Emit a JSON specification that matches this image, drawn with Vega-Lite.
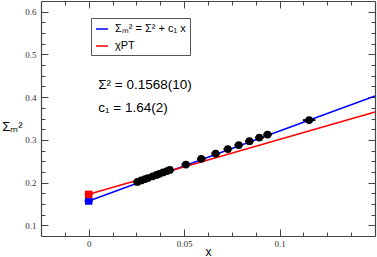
{
  "$schema": "https://vega.github.io/schema/vega-lite/v6.json",
  "width": 334,
  "height": 235,
  "autosize": {"type": "none"},
  "padding": {"left": 41, "top": 1, "right": 2, "bottom": 21},
  "background": "#ffffff",
  "config": {
    "view": {"stroke": null},
    "axis": {
      "domainColor": "#444",
      "domainWidth": 1.2,
      "tickColor": "#444",
      "tickWidth": 1,
      "grid": false,
      "labelFont": "Liberation Serif",
      "labelFontSize": 9,
      "labelColor": "#333",
      "labelOverlap": false,
      "titleFont": "Liberation Sans",
      "titleFontWeight": "normal",
      "titleColor": "#000"
    }
  },
  "datasets": {
    "lines": [
      {"series": "Σₘ² = Σ² + c₁ x", "x": 0, "y": 0.1568},
      {"series": "Σₘ² = Σ² + c₁ x", "x": 0.15, "y": 0.4028},
      {"series": "χPT", "x": 0, "y": 0.1725},
      {"series": "χPT", "x": 0.15, "y": 0.365}
    ],
    "points": [
      {"x": 0.0255, "y": 0.2016, "xlo": 0.0232, "xhi": 0.0278},
      {"x": 0.0275, "y": 0.2049, "xlo": 0.0252, "xhi": 0.0298},
      {"x": 0.0295, "y": 0.2082, "xlo": 0.0272, "xhi": 0.0318},
      {"x": 0.031, "y": 0.2106, "xlo": 0.0287, "xhi": 0.0333},
      {"x": 0.0335, "y": 0.2147, "xlo": 0.0312, "xhi": 0.0358},
      {"x": 0.0355, "y": 0.218, "xlo": 0.0332, "xhi": 0.0378},
      {"x": 0.037, "y": 0.2205, "xlo": 0.0347, "xhi": 0.0393},
      {"x": 0.039, "y": 0.2238, "xlo": 0.0367, "xhi": 0.0413},
      {"x": 0.041, "y": 0.227, "xlo": 0.0387, "xhi": 0.0433},
      {"x": 0.0425, "y": 0.2295, "xlo": 0.0402, "xhi": 0.0448},
      {"x": 0.0509, "y": 0.2423, "xlo": 0.0486, "xhi": 0.0532},
      {"x": 0.059, "y": 0.2556, "xlo": 0.0567, "xhi": 0.0613},
      {"x": 0.0665, "y": 0.2679, "xlo": 0.0642, "xhi": 0.0688},
      {"x": 0.0729, "y": 0.2784, "xlo": 0.0706, "xhi": 0.0752},
      {"x": 0.0786, "y": 0.2877, "xlo": 0.0763, "xhi": 0.0809},
      {"x": 0.0842, "y": 0.2969, "xlo": 0.0819, "xhi": 0.0865},
      {"x": 0.0894, "y": 0.3054, "xlo": 0.0871, "xhi": 0.0917},
      {"x": 0.0937, "y": 0.3125, "xlo": 0.0914, "xhi": 0.096},
      {"x": 0.1155, "y": 0.3462, "xlo": 0.1122, "xhi": 0.1188}
    ],
    "squares": [
      {"series": "Σₘ² = Σ² + c₁ x", "x": 0, "y": 0.1568, "xlo": -0.0022, "xhi": 0.0022},
      {"series": "χPT", "x": 0, "y": 0.1725, "xlo": -0.0022, "xhi": 0.0022}
    ],
    "notes": [
      {"x": 0.005, "y": 0.4284, "label": "Σ² = 0.1568(10)"},
      {"x": 0.005, "y": 0.375, "label": "c₁ = 1.64(2)"}
    ]
  },
  "resolve": {"axis": {"x": "independent", "y": "independent"}},
  "layer": [
    {
      "data": {"name": "lines"},
      "mark": {"type": "line", "strokeWidth": 1.5},
      "encoding": {
        "x": {
          "field": "x", "type": "quantitative",
          "scale": {"domain": [-0.025, 0.15], "nice": false, "zero": false},
          "axis": {
            "orient": "bottom",
            "values": [-0.0125, 0, 0.0125, 0.025, 0.0375, 0.05, 0.0625, 0.075, 0.0875, 0.1, 0.1125, 0.125, 0.1375],
            "tickSize": {"condition": {"test": "abs(datum.value*20 - round(datum.value*20)) < 0.001", "value": -7}, "value": -4},
            "labelExpr": "abs(datum.value*20 - round(datum.value*20)) < 0.001 ? format(datum.value, '~g') : ''",
            "labelOverlap": false,
            "labelPadding": 10,
            "labelFlush": false,
            "title": "x",
            "titleFontSize": 12,
            "titleX": 167,
            "titleY": 19,
            "titleBaseline": "alphabetic",
            "titleAlign": "center"
          }
        },
        "y": {
          "field": "y", "type": "quantitative",
          "scale": {"domain": [0.075, 0.625], "nice": false, "zero": false},
          "axis": {
            "orient": "left",
            "values": [0.1, 0.125, 0.15, 0.175, 0.2, 0.225, 0.25, 0.275, 0.3, 0.325, 0.35, 0.375, 0.4, 0.425, 0.45, 0.475, 0.5, 0.525, 0.55, 0.575, 0.6],
            "tickSize": {"condition": {"test": "abs(datum.value*10 - round(datum.value*10)) < 0.001", "value": -7}, "value": -4},
            "labelExpr": "abs(datum.value*10 - round(datum.value*10)) < 0.001 ? format(datum.value, '~g') : ''",
            "labelOverlap": false,
            "labelPadding": 12,
            "labelFlush": false,
            "title": "Σₘ²",
            "titleFontSize": 13,
            "titleAngle": 0,
            "titleX": -29,
            "titleY": 125,
            "titleAlign": "center",
            "titleBaseline": "middle"
          }
        },
        "color": {
          "field": "series", "type": "nominal",
          "scale": {"domain": ["Σₘ² = Σ² + c₁ x", "χPT"], "range": ["#0000ff", "#ff0000"]},
          "legend": {
            "orient": "none",
            "legendX": 50,
            "legendY": 17,
            "title": null,
            "symbolType": "stroke",
            "symbolStrokeWidth": 1.5,
            "symbolSize": 144,
            "strokeColor": "#555",
            "fillColor": "#ffffff",
            "padding": 4,
            "labelFont": "Liberation Sans",
            "labelFontSize": 11,
            "labelColor": "#000",
            "rowPadding": 5,
            "labelOffset": 6
          }
        }
      }
    },
    {
      "data": {"name": "points"},
      "mark": {"type": "rule", "color": "#000", "strokeWidth": 2},
      "encoding": {
        "x": {"field": "xlo", "type": "quantitative", "axis": null},
        "x2": {"field": "xhi"},
        "y": {"field": "y", "type": "quantitative", "axis": null}
      }
    },
    {
      "data": {"name": "points"},
      "mark": {"type": "point", "shape": "circle", "filled": true, "color": "#000", "size": 60, "opacity": 1},
      "encoding": {
        "x": {"field": "x", "type": "quantitative", "axis": null},
        "y": {"field": "y", "type": "quantitative", "axis": null}
      }
    },
    {
      "data": {"name": "squares"},
      "mark": {"type": "rule", "strokeWidth": 1.5},
      "encoding": {
        "x": {"field": "xlo", "type": "quantitative", "axis": null},
        "x2": {"field": "xhi"},
        "y": {"field": "y", "type": "quantitative", "axis": null},
        "color": {"field": "series", "type": "nominal", "legend": null}
      }
    },
    {
      "data": {"name": "notes"},
      "mark": {"type": "text", "align": "left", "baseline": "middle", "font": "Liberation Sans", "fontSize": 13.5, "color": "#000"},
      "encoding": {
        "x": {"field": "x", "type": "quantitative", "axis": null},
        "y": {"field": "y", "type": "quantitative", "axis": null},
        "text": {"field": "label"}
      }
    },
    {
      "data": {"name": "squares"},
      "mark": {"type": "square", "size": 55, "opacity": 1},
      "encoding": {
        "x": {
          "field": "x", "type": "quantitative",
          "axis": {
            "orient": "top",
            "values": [-0.0125, 0, 0.0125, 0.025, 0.0375, 0.05, 0.0625, 0.075, 0.0875, 0.1, 0.1125, 0.125, 0.1375],
            "tickSize": {"condition": {"test": "abs(datum.value*20 - round(datum.value*20)) < 0.001", "value": -7}, "value": -4},
            "labels": false,
            "title": null
          }
        },
        "y": {
          "field": "y", "type": "quantitative",
          "axis": {
            "orient": "right",
            "values": [0.1, 0.125, 0.15, 0.175, 0.2, 0.225, 0.25, 0.275, 0.3, 0.325, 0.35, 0.375, 0.4, 0.425, 0.45, 0.475, 0.5, 0.525, 0.55, 0.575, 0.6],
            "tickSize": {"condition": {"test": "abs(datum.value*10 - round(datum.value*10)) < 0.001", "value": -7}, "value": -4},
            "labels": false,
            "title": null
          }
        },
        "color": {"field": "series", "type": "nominal", "legend": null}
      }
    }
  ]
}
